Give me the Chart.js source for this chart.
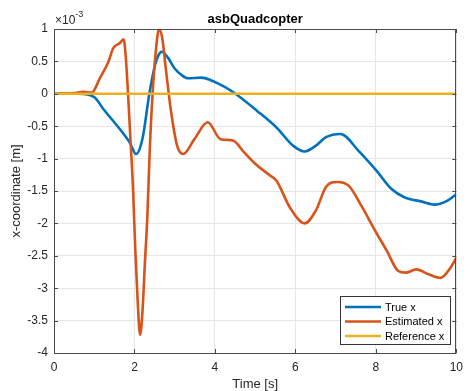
<!DOCTYPE html>
<html>
<head>
<meta charset="utf-8">
<script src="https://cdn.jsdelivr.net/npm/chart.js@4.4.1/dist/chart.umd.min.js"></script>
<style>
html,body{margin:0;padding:0;background:#fff;}
#wrap{width:470px;height:391px;position:relative;}
</style>
</head>
<body>
<div id="wrap"><canvas id="c" width="470" height="391"></canvas></div>
<script>
// ---- data (x values in units of 1e-3 m) ----
const timeTrue = [0, 0.6, 1.0, 1.22, 1.63, 1.88, 2.04, 2.2, 2.37, 2.51, 2.6, 2.68, 2.84, 3.0, 3.17, 3.33, 3.66, 3.9, 4.23, 4.51, 5.04, 5.53, 5.94, 6.23, 6.51, 6.76, 7.12, 7.57, 8.02, 8.39, 8.72, 9.12, 9.49, 9.78, 10];
const trueX = [0, 0, -0.05, -0.23, -0.54, -0.75, -0.93, -0.69, 0, 0.44, 0.6, 0.65, 0.55, 0.39, 0.29, 0.24, 0.25, 0.21, 0.11, 0, -0.26, -0.52, -0.80, -0.89, -0.80, -0.67, -0.62, -0.88, -1.19, -1.47, -1.60, -1.66, -1.71, -1.65, -1.55];

const timeEst = [0, 0.5, 0.73, 0.94, 1.14, 1.35, 1.47, 1.63, 1.73, 1.78, 1.84, 1.90, 1.96, 2.02, 2.08, 2.14, 2.20, 2.26, 2.32, 2.38, 2.45, 2.53, 2.61, 2.69, 2.77, 2.9, 3.06, 3.21, 3.49, 3.82, 4.14, 4.45, 4.72, 5.0, 5.37, 5.53, 5.86, 6.23, 6.51, 6.76, 7.04, 7.33, 7.66, 7.98, 8.27, 8.55, 8.76, 9.0, 9.33, 9.61, 9.86, 10];
const estX = [0, 0.01, 0.03, 0.02, 0.24, 0.49, 0.70, 0.78, 0.84, 0.6, 0.0, -0.7, -1.4, -2.4, -3.2, -3.72, -3.35, -2.6, -1.9, -0.87, 0.0, 0.65, 1.0, 0.86, 0.44, -0.23, -0.80, -0.93, -0.70, -0.44, -0.70, -0.72, -0.90, -1.08, -1.26, -1.34, -1.75, -2.0, -1.80, -1.44, -1.36, -1.42, -1.75, -2.11, -2.42, -2.73, -2.76, -2.71, -2.79, -2.84, -2.68, -2.53];

const timeRef = [0, 10];
const refX = [0, 0];

const xTicks = [0, 2, 4, 6, 8, 10];
const yTicks = [-4, -3.5, -3, -2.5, -2, -1.5, -1, -0.5, 0, 0.5, 1];
const seriesNames = ['True x', 'Estimated x', 'Reference x'];
const seriesColors = ['#0072BD', '#D95319', '#EDB120'];

const titleText = 'asbQuadcopter';
const xLabel = 'Time [s]';
const yLabel = 'x-coordinate [m]';

function pts(t, v){ return t.map((x,i)=>({x:x, y:v[i]})); }

const FONT = '"Liberation Sans", Arial, Helvetica, sans-serif';
const AX = '#262626';
const GRID = '#e6e6e6';

const decor = {
  id:'decor',
  afterDraw(chart){
    const ctx = chart.ctx, a = chart.chartArea;
    const xs = chart.scales.x, ys = chart.scales.y;
    ctx.save();
    // box
    ctx.strokeStyle = '#4a4a4a';
    ctx.lineWidth = 1;
    ctx.strokeRect(Math.round(a.left)+0.5, Math.round(a.top)+0.5, Math.round(a.right-a.left)-1, Math.round(a.bottom-a.top));
    // inward ticks
    const tl = 4;
    ctx.beginPath();
    xTicks.forEach(v=>{
      const px = Math.round(xs.getPixelForValue(v))+0.5;
      ctx.moveTo(px, a.bottom); ctx.lineTo(px, a.bottom-tl);
      ctx.moveTo(px, a.top); ctx.lineTo(px, a.top+tl);
    });
    yTicks.forEach(v=>{
      const py = Math.round(ys.getPixelForValue(v))+0.5;
      ctx.moveTo(a.left, py); ctx.lineTo(a.left+tl, py);
      ctx.moveTo(a.right, py); ctx.lineTo(a.right-tl, py);
    });
    ctx.stroke();
    // title
    ctx.fillStyle = '#000';
    ctx.font = 'bold 13px ' + FONT;
    ctx.textAlign = 'center'; ctx.textBaseline = 'alphabetic';
    ctx.fillText(titleText, (a.left+a.right)/2, 23);
    // exponent
    ctx.fillStyle = AX;
    ctx.textAlign = 'left';
    ctx.font = '12px ' + FONT;
    ctx.fillText('\u00d710', a.left+1, 24);
    const w = ctx.measureText('\u00d710').width;
    ctx.font = '9px ' + FONT;
    ctx.fillText('-3', a.left+1+w, 17);
    // x label
    ctx.font = '13px ' + FONT;
    ctx.textAlign = 'center';
    ctx.fillText(xLabel, (a.left+a.right)/2, 388);
    // y label
    ctx.save();
    ctx.translate(16, (a.top+a.bottom)/2);
    ctx.rotate(-Math.PI/2);
    ctx.textBaseline = 'middle';
    ctx.fillText(yLabel, 0, 0);
    ctx.restore();
    // legend
    const lx = 340.5, ly = 296.5, lw = 110, lh = 48;
    ctx.fillStyle = '#fff';
    ctx.fillRect(lx, ly, lw, lh);
    ctx.strokeStyle = '#333';
    ctx.lineWidth = 1;
    ctx.strokeRect(lx, ly, lw, lh);
    ctx.font = '11px ' + FONT;
    ctx.textAlign = 'left'; ctx.textBaseline = 'middle';
    seriesNames.forEach((n,i)=>{
      const y = 307 + i*14.5;
      ctx.strokeStyle = seriesColors[i];
      ctx.lineWidth = 2.5;
      ctx.beginPath(); ctx.moveTo(345, y); ctx.lineTo(381, y); ctx.stroke();
      ctx.fillStyle = '#000';
      ctx.fillText(n, 385, y+0.5);
    });
    ctx.restore();
  }
};

new Chart(document.getElementById('c'), {
  type:'line',
  data:{
    datasets:[
      {label:seriesNames[0], data:pts(timeTrue,trueX), borderColor:seriesColors[0], order:2},
      {label:seriesNames[1], data:pts(timeEst,estX), borderColor:seriesColors[1], order:1},
      {label:seriesNames[2], data:pts(timeRef,refX), borderColor:seriesColors[2], order:0}
    ]
  },
  options:{
    responsive:false,
    animation:false,
    devicePixelRatio:1,
    parsing:false,
    elements:{
      point:{radius:0},
      line:{borderWidth:2.6, tension:0.4, cubicInterpolationMode:'monotone', fill:false}
    },
    layout:{padding:{top:29, right:7, left:0, bottom:0}},
    plugins:{legend:{display:false}, title:{display:false}, tooltip:{enabled:false}},
    scales:{
      x:{
        type:'linear', min:0, max:10,
        afterBuildTicks:s=>{ s.ticks = xTicks.map(v=>({value:v})); },
        afterFit:s=>{ s.height = 38; },
        ticks:{font:{family:FONT, size:12}, color:AX, padding:7, maxRotation:0, autoSkip:false},
        grid:{color:GRID, drawTicks:false},
        border:{display:false}
      },
      y:{
        type:'linear', min:-4, max:1,
        afterBuildTicks:s=>{ s.ticks = yTicks.map(v=>({value:v})); },
        afterFit:s=>{ s.width = 54; },
        ticks:{font:{family:FONT, size:12}, color:AX, padding:6, autoSkip:false, callback:v=>String(v)},
        grid:{color:GRID, drawTicks:false},
        border:{display:false}
      }
    }
  },
  plugins:[decor]
});
</script>
</body>
</html>
